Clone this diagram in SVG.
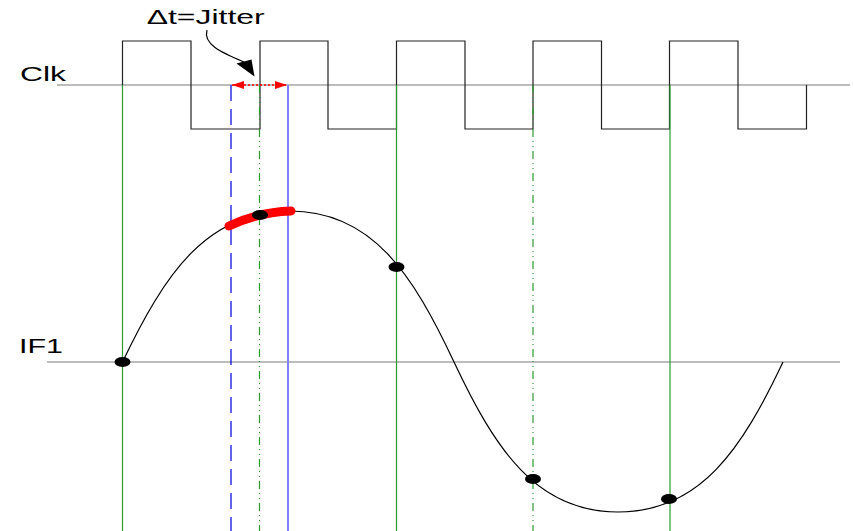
<svg xmlns="http://www.w3.org/2000/svg" width="853" height="531" viewBox="0 0 853 531">
<style>
.lbl{font-family:"Liberation Sans",Arial,sans-serif;font-size:19.5px;fill:#000}
.base{stroke:#a6a6a6;stroke-width:1.5;fill:none}
.clk{stroke:#222;stroke-width:1.2;fill:none}
.g{stroke:#2e9a2e;stroke-width:1.2;fill:none}
.gdd{stroke:#2e9a2e;stroke-width:1.2;fill:none;stroke-dasharray:8 4 1 4 1 4}
.bd{stroke:#1010e0;stroke-width:1.3;fill:none;stroke-dasharray:16 8}
.lb{stroke:#8080ff;stroke-width:2;fill:none}
.dot{fill:#000}
</style>
<defs>
<marker id="redhead" viewBox="0 0 12 8" refX="12" refY="4" markerWidth="12" markerHeight="8" markerUnits="userSpaceOnUse" orient="auto-start-reverse">
<path d="M0,0 L12,4 L0,8 Z" fill="#ff0000"/>
</marker>
</defs>

<g id="clk-axis">
<line class="base" x1="57" y1="85" x2="850" y2="85"/>
<text class="lbl" x="20" y="80.7" textLength="46" lengthAdjust="spacingAndGlyphs">Clk</text>
</g>

<g id="clock-signal">
<path class="clk" d="M122.5,85 V41 H191 V129 H260 V41 H328 V129 H396.5 V41 H465 V129 H533 V41 H601.5 V129 H669.5 V41 H738 V129 H806.5 V85"/>
</g>

<g id="if1-axis">
<line class="base" x1="47" y1="362" x2="840" y2="362"/>
<text class="lbl" x="19" y="353.3" textLength="44" lengthAdjust="spacingAndGlyphs">IF1</text>
</g>

<g id="sample-lines">
<line class="g" x1="122.5" y1="85" x2="122.5" y2="531"/>
<line class="bd" x1="231" y1="85" x2="231" y2="531"/>
<line class="gdd" x1="259.5" y1="85" x2="259.5" y2="531"/>
<line class="lb" x1="288" y1="85" x2="288" y2="531"/>
<line class="g" x1="396.5" y1="85" x2="396.5" y2="531"/>
<line class="gdd" x1="533" y1="85" x2="533" y2="531"/>
<line class="g" x1="670" y1="85" x2="670" y2="531"/>
</g>

<g id="if1-signal">
<path fill="none" stroke="#000" stroke-width="1.2" d="M122.5,362 C164.4,274.4 206.3,211 290,211 C372,211 413,274.4 454,362 C495,449 536,512 618,512 C700.5,512 741.8,449 783,362"/>
</g>

<g id="jitter-arc">
<path fill="none" stroke="#ff0000" stroke-width="9" stroke-linecap="round" d="M229,226 Q259,212 291,211"/>
</g>

<g id="samples">
<ellipse class="dot" cx="122.5" cy="362" rx="8" ry="5"/>
<ellipse class="dot" cx="260" cy="215" rx="8" ry="5"/>
<ellipse class="dot" cx="396.5" cy="267" rx="8" ry="5"/>
<ellipse class="dot" cx="533" cy="479" rx="8" ry="5"/>
<ellipse class="dot" cx="669" cy="499" rx="8" ry="5"/>
</g>

<g id="connectors">
<line x1="232" y1="85" x2="287" y2="85" stroke="#ff0000" stroke-width="1.3" stroke-dasharray="2 2" marker-start="url(#redhead)" marker-end="url(#redhead)"/>
<path d="M207,30 C203,44 220,52 244,62" fill="none" stroke="#000" stroke-width="1.2"/>
<polygon points="236.5,63.5 251.5,59.5 254.5,76.5" fill="#000"/>
</g>

<g id="jitter-label">
<text class="lbl" x="146.7" y="24" textLength="118" lengthAdjust="spacingAndGlyphs">Δt=Jitter</text>
</g>
</svg>
